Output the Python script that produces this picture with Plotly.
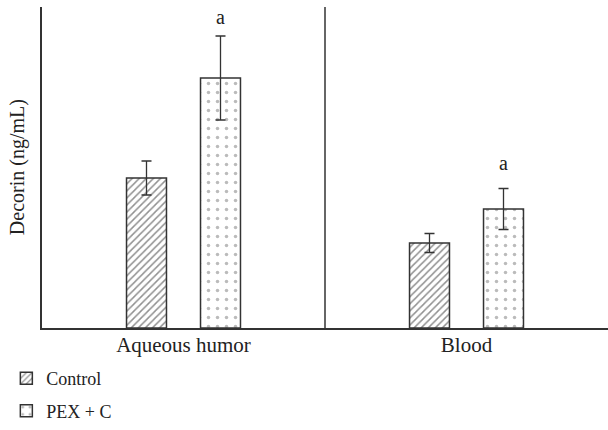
import plotly.graph_objects as go

categories = ["Aqueous humor", "Blood"]
control_vals = [15.0, 8.5]
control_err = [1.7, 0.95]
pex_vals = [25.0, 11.9]
pex_err = [4.2, 2.05]
sig_labels = ["a", "a"]
sig_heights = [31.1, 16.5]
y_title = "Decorin (ng/mL)"

FONT = "Liberation Serif, Times New Roman, serif"
LINE = "#333333"
BARGAP = 0.477

fig = go.Figure()
fig.add_trace(go.Bar(
    x=categories, y=control_vals, name="Control", legendgroup="c",
    marker=dict(color="white", line=dict(color=LINE, width=1.5),
                pattern=dict(shape="/", fgcolor="#222", bgcolor="white", size=5, solidity=0.3)),
    error_y=dict(type="data", array=control_err, visible=True, color=LINE, thickness=1.3, width=5),
))
fig.add_trace(go.Bar(
    x=categories, y=pex_vals, name="PEX + C", legendgroup="p",
    marker=dict(color="white", line=dict(color=LINE, width=1.5),
                pattern=dict(shape=".", fgcolor="#777", bgcolor="white", size=9, solidity=0.12)),
    error_y=dict(type="data", array=pex_err, visible=True, color=LINE, thickness=1.3, width=5),
))

# significance markers above PEX + C bars
for i, (h, s) in enumerate(zip(sig_heights, sig_labels)):
    fig.add_annotation(x=i + (1 - BARGAP) / 4, y=h, xref="x", yref="y",
                       text=s, showarrow=False, yanchor="middle",
                       font=dict(family=FONT, size=20, color="#222"))

# y-axis title
fig.add_annotation(x=-0.043, y=0.5, xref="paper", yref="paper", text=y_title,
                   textangle=-90, showarrow=False, xanchor="center", yanchor="middle",
                   font=dict(family=FONT, size=20, color="#222"))

fig.add_shape(type="line", xref="x", yref="paper", x0=0.5, x1=0.5, y0=0, y1=1,
              line=dict(color=LINE, width=1.5))

fig.update_layout(
    width=608, height=430,
    margin=dict(l=42, r=0, t=7, b=102, autoexpand=False),
    paper_bgcolor="white", plot_bgcolor="white",
    barmode="group", bargap=BARGAP, bargroupgap=0.46,
    font=dict(family=FONT, size=20, color="#222"),
    xaxis=dict(showline=True, linecolor=LINE, linewidth=1.5, showgrid=False, automargin=False,
               ticks="", tickfont=dict(size=21), range=[-0.5, 1.5], ticklabelstandoff=-3),
    yaxis=dict(showline=True, linecolor=LINE, linewidth=1.5, showgrid=False, automargin=False,
               showticklabels=False, ticks="", zeroline=False, range=[0, 32.1]),
    legend=dict(x=-0.063, y=-0.1, xanchor="left", yanchor="top",
                traceorder="grouped", tracegroupgap=6,
                font=dict(size=18), itemwidth=30, bgcolor="rgba(0,0,0,0)"),
    showlegend=True,
)

fig.write_html("out.html", config={"displayModeBar": False},
               post_script="document.body.style.margin='0';document.body.style.padding='0';")
